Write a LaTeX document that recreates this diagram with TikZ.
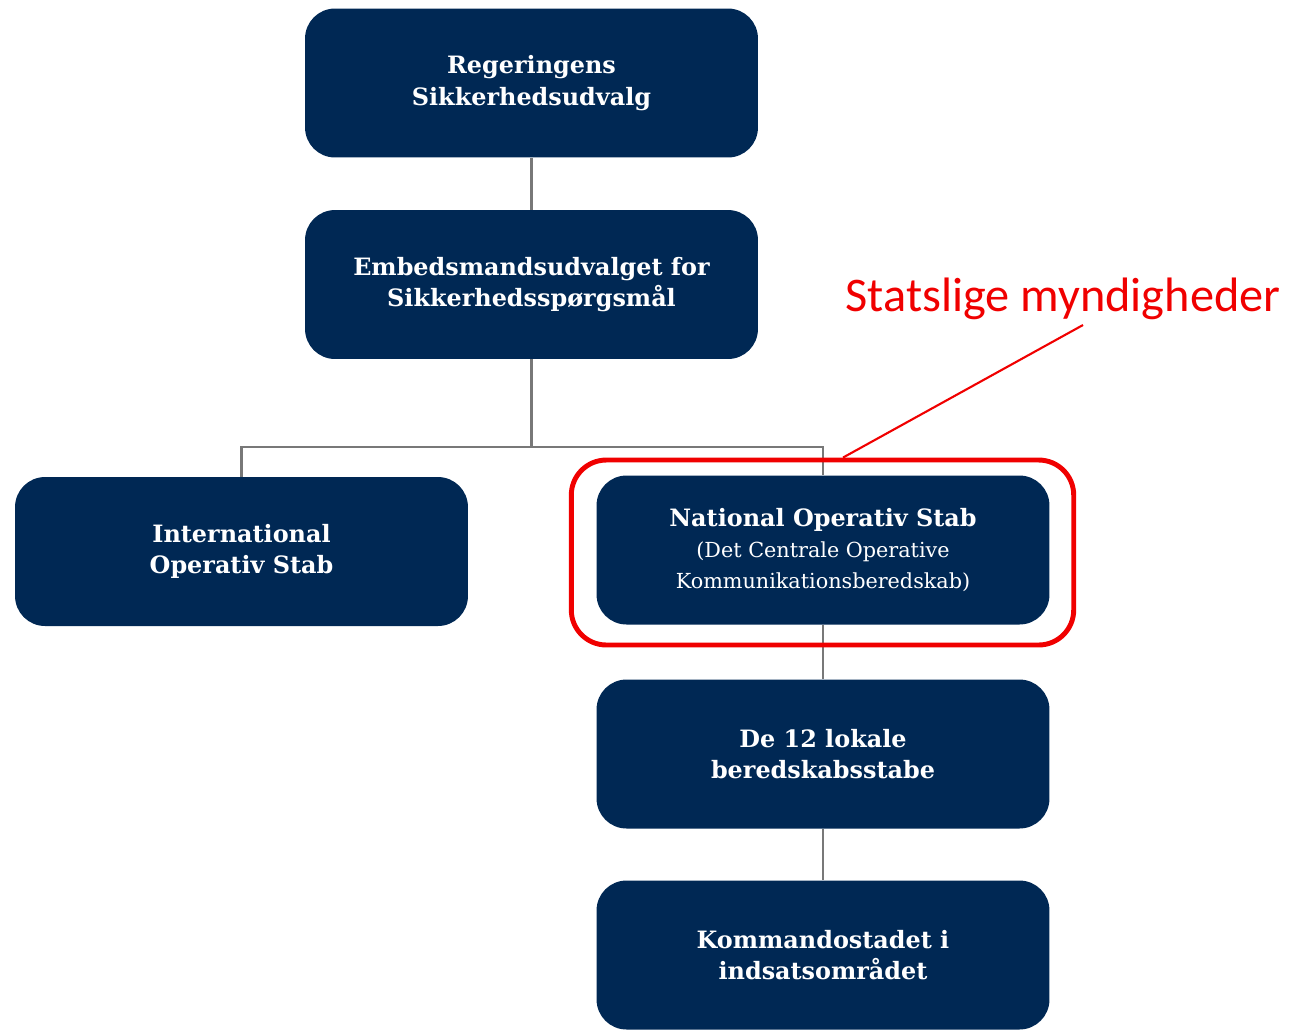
\documentclass[tikz,border=0pt]{standalone}
\usepackage{fontspec}
\setmainfont{DejaVu Serif}
\newfontfamily\calib{Carlito}
\definecolor{navy}{RGB}{0,40,84}
\definecolor{conn}{RGB}{120,120,120}
\definecolor{redmark}{RGB}{240,0,0}
\begin{document}
\begin{tikzpicture}[x=0.02cm,y=-0.02cm,
  orgbox/.style={rectangle, rounded corners=0.6cm, fill=navy, text=white,
    minimum width=9.06cm, minimum height=2.98cm, align=center, inner sep=0pt,
    font=\fontsize{13.6}{17.8}\selectfont\bfseries},
  conline/.style={draw=conn, line width=1.6pt},
  redline/.style={draw=redmark, line width=1.2pt}]
\useasboundingbox (0,0) rectangle (1297,1029);
\node[orgbox] (rs) at (531.5,83) {Regeringens\\Sikkerhedsudvalg};
\node[orgbox] (es) at (531.5,284.5) {Embedsmandsudvalget for\\Sikkerhedsspørgsmål};
\node[orgbox] (ios) at (241.5,551.5) {International\\Operativ Stab};
\node[orgbox] (nos) at (823,550) {National Operativ Stab\\{\mdseries\fontsize{11.8}{17.8}\selectfont (Det Centrale Operative}\\{\mdseries\fontsize{11.8}{17.8}\selectfont Kommunikationsberedskab)}};
\node[orgbox] (lok) at (823,754) {De 12 lokale\\beredskabsstabe};
\node[orgbox] (kom) at (823,955) {Kommandostadet i\\indsatsområdet};
\coordinate (split) at (531.5,447);
\draw[conline] (rs.south) -- (es.north);
\draw[conline] (es.south) -- (split);
\draw[conline] (split) -| (ios.north);
\draw[conline] (split) -| (nos.north);
\draw[conline] (nos.south) -- (lok.north);
\draw[conline] (lok.south) -- (kom.north);
\node[draw=redmark, line width=2.8pt, rounded corners=0.7cm, minimum width=10.05cm, minimum height=3.7cm, inner sep=0pt] (hl) at (822.5,552.5) {};
\node[text=redmark, font=\calib\fontsize{27.5}{32}\selectfont, inner sep=0pt] (lbl) at (1063,299) {Statslige myndigheder};
\coordinate (lblend) at (1083,325);
\draw[redline] (lblend) -- (hl.north -| 843,0);
\end{tikzpicture}
\end{document}
